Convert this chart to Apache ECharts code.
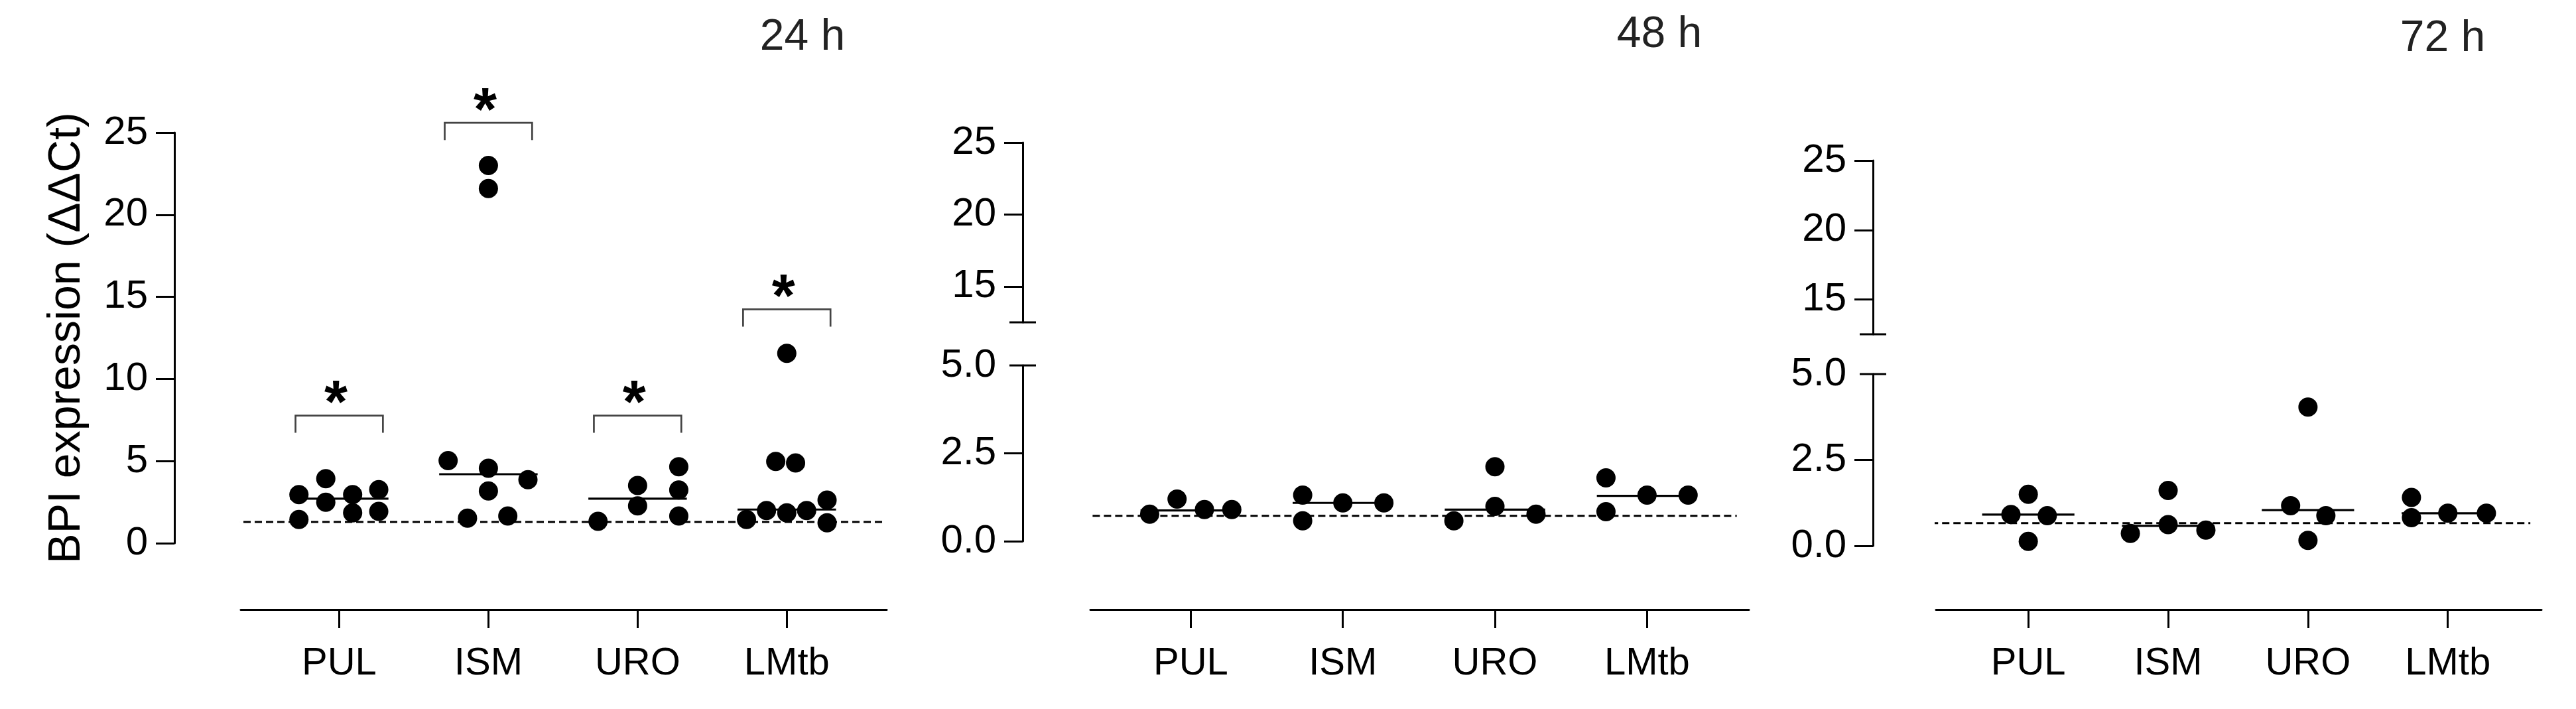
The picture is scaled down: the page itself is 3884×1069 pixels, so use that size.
<!DOCTYPE html>
<html>
<head>
<meta charset="utf-8">
<script src="https://cdn.jsdelivr.net/npm/echarts@6/dist/echarts.min.js"></script>
<style>html,body{margin:0;padding:0;background:#fff}#c{width:3884px;height:1069px}</style>
</head>
<body>
<div id="c"></div>
<script>
// ---------------- data ----------------
const categories = ['PUL', 'ISM', 'URO', 'LMtb'];
const timeLabels = ['24 h', '48 h', '72 h'];
const yTitle = 'BPI expression (ΔΔCt)';

// 24 h
const pul24  = [2.96, 3.93, 2.96, 3.26, 1.44, 2.49, 1.85, 1.94];
const ism24  = [23.0, 21.6, 5.03, 4.56, 3.87, 3.18, 1.52, 1.66];
const uro24  = [1.33, 3.51, 2.27, 4.65, 3.24, 1.66];
const lmtb24 = [11.56, 4.98, 4.89, 1.44, 1.99, 1.85, 1.99, 2.63, 1.24];
const median24 = [2.71, 4.2, 2.71, 2.05];
const baseline24 = 1.29;
const signif24 = [7.77, 25.6, 7.77, 14.24];   // bracket levels (with *)

// 48 h
const pul48  = [0.77, 1.20, 0.90, 0.90];
const ism48  = [1.31, 0.58, 1.09, 1.09];
const uro48  = [0.58, 2.12, 0.99, 0.77];
const lmtb48 = [1.80, 0.84, 1.31, 1.31];
const median48 = [0.875, 1.09, 0.90, 1.29];
const baseline48 = 0.72;

// 72 h
const pul72  = [0.91, 1.50, 0.88, 0.13];
const ism72  = [0.36, 1.61, 0.62, 0.46];
const uro72  = [1.17, 4.04, 0.88, 0.16];
const lmtb72 = [1.41, 0.82, 0.95, 0.95];
const median72 = [0.91, 0.58, 1.04, 0.95];
const baseline72 = 0.66;

// horizontal spread of the dots inside a column (category units)
const spread24 = [
  [-0.27, -0.09, 0.09, 0.265, -0.27, -0.09, 0.09, 0.265],
  [0, 0, -0.27, 0, 0.265, 0, -0.14, 0.13],
  [-0.265, 0, 0, 0.276, 0.276, 0.276],
  [0, -0.074, 0.059, -0.27, -0.136, 0, 0.133, 0.27, 0.27]
];
const spread48 = [
  [-0.27, -0.09, 0.09, 0.27],
  [-0.264, -0.264, 0, 0.27],
  [-0.27, 0, 0, 0.27],
  [-0.27, -0.27, 0, 0.27]
];
const spread72 = [
  [-0.124, 0, 0.136, 0],
  [-0.27, 0, 0, 0.27],
  [-0.124, 0, 0.128, 0],
  [-0.26, -0.26, 0, 0.276]
];

const ticks24 = [0, 5, 10, 15, 20, 25];
const lowTicks = [0, 2.5, 5];
const highTicks = [15, 20, 25];

// ---------------- layout ----------------
const FONT = '"Liberation Sans", Arial, Helvetica, sans-serif';
const BLACK = '#000';
const xMin = -0.66, xMax = 3.67;

const panels = [
  { lower: {left: 363,  top: 200, width: 974, height: 619}, upper: null,
    yOff: 100, xOff: 100, low: [0, 25], dash: [-1.02, 3.66],
    groups: [pul24, ism24, uro24, lmtb24], spread: spread24, med: median24, base: baseline24,
    title: {x: 1210, y: 57} },
  { lower: {left: 1644, top: 551, width: 993, height: 265}, upper: {left: 1644, top: 215, width: 993, height: 271},
    yOff: 102, xOff: 103, low: [0, 5], dash: [-1.09, 3.59],
    groups: [pul48, ism48, uro48, lmtb48], spread: spread48, med: median48, base: baseline48,
    title: {x: 2502, y: 53} },
  { lower: {left: 2919, top: 564, width: 913, height: 259}, upper: {left: 2919, top: 242, width: 913, height: 262},
    yOff: 95, xOff: 96, low: [0, 5], dash: [-1.10, 3.59],
    groups: [pul72, ism72, uro72, lmtb72], spread: spread72, med: median72, base: baseline72,
    title: {x: 3683, y: 59} }
];

const grid = [], xAxis = [], yAxis = [], series = [], graphic = [];

const axisLineStyle = {color: BLACK, width: 3};

panels.forEach((p, pi) => {
  const gLow = grid.length;
  grid.push(Object.assign({containLabel: false}, p.lower));
  xAxis.push({
    type: 'value', gridIndex: gLow, min: xMin, max: xMax, offset: p.xOff,
    axisLine: {show: true, onZero: false, lineStyle: axisLineStyle},
    axisTick: {show: true, customValues: [0, 1, 2, 3], length: 28, lineStyle: axisLineStyle},
    axisLabel: {show: true, customValues: [0, 1, 2, 3], formatter: v => categories[Math.round(v)],
      fontSize: 58, fontFamily: FONT, color: BLACK, margin: 53},
    splitLine: {show: false}
  });
  const yLow = {
    type: 'value', gridIndex: gLow, min: p.low[0], max: p.low[1], offset: p.yOff,
    axisLine: {show: true, onZero: false, lineStyle: axisLineStyle},
    axisTick: {show: true, length: 28, lineStyle: axisLineStyle},
    axisLabel: {show: true, fontSize: 60, fontFamily: FONT, color: BLACK, margin: 40},
    splitLine: {show: false}
  };
  if (pi === 0) {
    yLow.interval = 5;
    yLow.axisTick.customValues = ticks24;
    yLow.axisLabel.customValues = ticks24;
    yLow.name = yTitle;
    yLow.nameLocation = 'middle';
    yLow.nameRotate = 90;
    yLow.nameGap = 128;
    yLow.nameTextStyle = {fontSize: 68, fontFamily: FONT, color: BLACK};
  } else {
    yLow.axisTick.customValues = [0, 2.5];
    yLow.axisLabel.customValues = lowTicks;
    yLow.axisLabel.formatter = v => v.toFixed(1);
    yLow.axisLine.symbol = ['none', 'rect'];
    yLow.axisLine.symbolSize = [40, 3];
  }
  yAxis.push(yLow);

  if (p.upper) {
    const gUp = grid.length;
    grid.push(Object.assign({containLabel: false}, p.upper));
    xAxis.push({type: 'value', gridIndex: gUp, min: xMin, max: xMax, show: false, splitLine: {show: false}});
    yAxis.push({
      type: 'value', gridIndex: gUp, min: 12.5, max: 25, offset: p.yOff,
      axisLine: {show: true, onZero: false, lineStyle: axisLineStyle, symbol: ['rect', 'none'], symbolSize: [40, 3]},
      axisTick: {show: true, customValues: [15, 20, 25], length: 28, lineStyle: axisLineStyle},
      axisLabel: {show: true, customValues: highTicks, fontSize: 60, fontFamily: FONT, color: BLACK, margin: 40},
      splitLine: {show: false}
    });
  }

  // dashed reference line
  series.push({
    type: 'line', xAxisIndex: gLow, yAxisIndex: gLow, clip: false, silent: true,
    symbol: 'none', data: [[p.dash[0], p.base], [p.dash[1], p.base]],
    lineStyle: {color: BLACK, width: 3, type: [11, 6], opacity: 1}, z: 1, animation: false
  });

  // points
  const pts = [];
  p.groups.forEach((vals, ci) => {
    vals.forEach((v, k) => pts.push([ci + p.spread[ci][k], v]));
  });
  series.push({
    type: 'scatter', xAxisIndex: gLow, yAxisIndex: gLow, clip: false, silent: true,
    symbol: 'circle', symbolSize: 29, itemStyle: {color: BLACK, opacity: 1}, data: pts, z: 3, animation: false
  });

  // medians
  series.push({
    type: 'custom', xAxisIndex: gLow, yAxisIndex: gLow, silent: true, z: 4, animation: false,
    data: p.med.map((m, ci) => [ci, m]),
    renderItem: (params, api) => {
      const c = api.value(0), v = api.value(1);
      const a = api.coord([c - 0.33, v]), b = api.coord([c + 0.33, v]);
      return {type: 'line', shape: {x1: a[0], y1: a[1], x2: b[0], y2: b[1]},
        style: {stroke: BLACK, lineWidth: 3.2}};
    }
  });

  // significance brackets (24 h only)
  if (pi === 0) {
    series.push({
      type: 'custom', xAxisIndex: gLow, yAxisIndex: gLow, silent: true, z: 4, animation: false,
      data: signif24.map((s, ci) => [ci, s]),
      renderItem: (params, api) => {
        const c = api.value(0), v = api.value(1);
        const l = api.coord([c - 0.293, v]), r = api.coord([c + 0.293, v]);
        const leg = 26;
        const cx = (l[0] + r[0]) / 2 - 5;
        return {type: 'group', children: [
          {type: 'polyline', shape: {points: [[l[0], l[1] + leg], [l[0], l[1]], [r[0], r[1]], [r[0], r[1] + leg]]},
            style: {stroke: '#444', lineWidth: 2.7, fill: null}},
          {type: 'text', x: cx, y: l[1] - 32 + 18,
            style: {text: '*', fill: BLACK, font: 'bold 90px ' + FONT,
              align: 'center', verticalAlign: 'middle', textAlign: 'center', textVerticalAlign: 'middle'}}
        ]};
      }
    });
  }

  graphic.push({
    type: 'text', x: p.title.x, y: p.title.y, silent: true,
    style: {text: timeLabels[pi], fill: '#222', font: '66px ' + FONT,
      align: 'center', verticalAlign: 'middle', textAlign: 'center', textVerticalAlign: 'middle'}
  });
});

const chart = echarts.init(document.getElementById('c'), null, {renderer: 'canvas', width: 3884, height: 1069});
chart.setOption({
  animation: false,
  backgroundColor: '#fff',
  grid, xAxis, yAxis, series, graphic
});
</script>
</body>
</html>
